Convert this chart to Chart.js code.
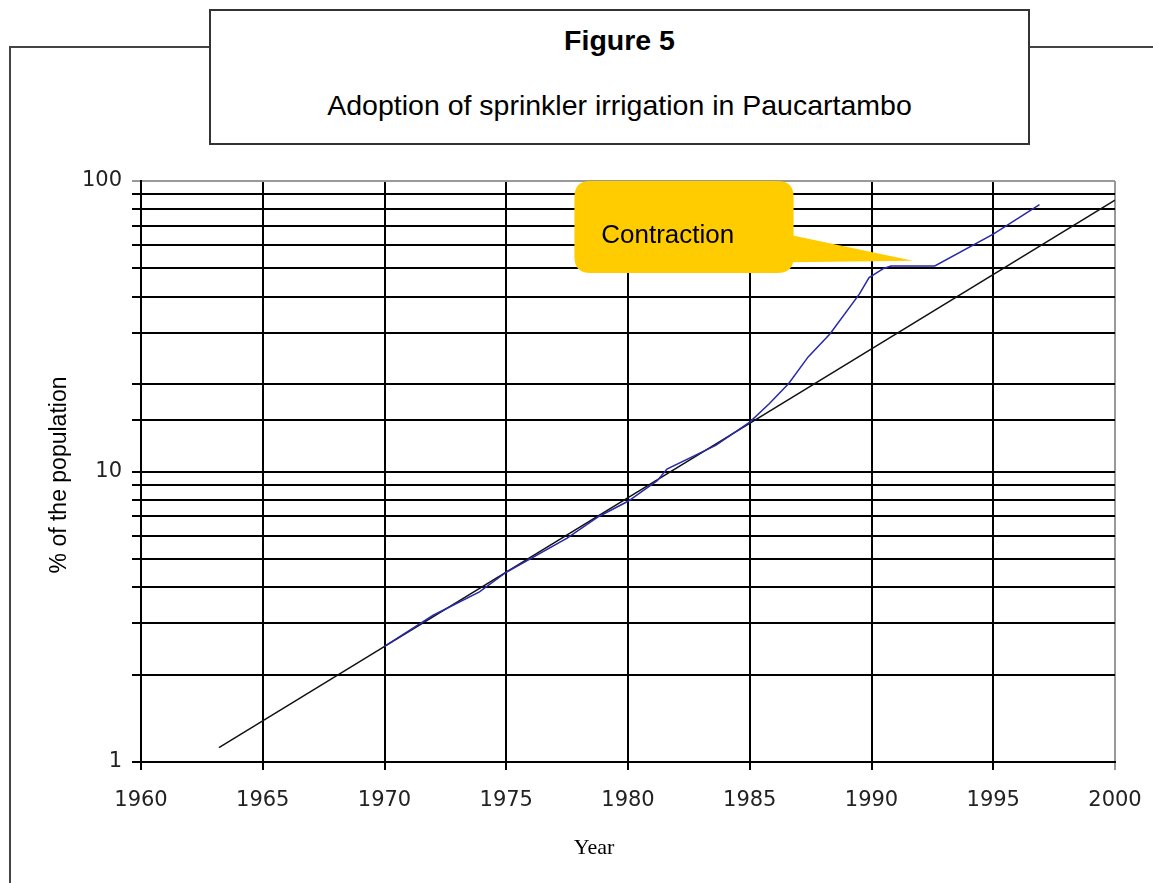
<!DOCTYPE html>
<html>
<head>
<meta charset="utf-8">
<script src="https://cdn.jsdelivr.net/npm/chart.js@4.4.1/dist/chart.umd.min.js"></script>
<style>
  body { margin: 0; background: #fff; width: 1153px; height: 883px; overflow: hidden; position: relative; }
  #frame { position: absolute; left: 9px; top: 46px; width: 1150px; height: 900px;
           border-left: 2px solid #444; border-top: 2px solid #444; }
  #myChart { position: absolute; left: 0; top: 0; }
  #titleBox { position: absolute; left: 209px; top: 9px; width: 817px; height: 132px;
              border: 2px solid #333; background: #fff; font-family: "Liberation Sans", Arial, sans-serif;
              text-align: center; color: #000; }
  #titleBox .fig { position: absolute; left: 0; right: 0; top: 13px; font-size: 28.5px; font-weight: bold; }
  #titleBox .sub { position: absolute; left: 0; right: 0; top: 78px; font-size: 28.5px; }
</style>
</head>
<body>
<div id="frame"></div>
<canvas id="myChart" width="1153" height="883"></canvas>
<div id="titleBox">
  <div class="fig">Figure 5</div>
  <div class="sub">Adoption of sprinkler irrigation in Paucartambo</div>
</div>
<script>
// adoption curve (blue)
const adoptionYears = [1970, 1972, 1973.9, 1975, 1977.5, 1978.8, 1980, 1981.2, 1981.6, 1983.6, 1985, 1985.8, 1986.6, 1987.4, 1988.3, 1989.5, 1989.9, 1990.5, 1990.8, 1992.6, 1995, 1996.9];
const adoptionPct = [2.5, 3.2, 3.85, 4.5, 5.9, 7.0, 7.9, 9.3, 10.2, 12.3, 14.8, 17.1, 20.1, 24.8, 29.8, 40.8, 46.5, 50, 51, 51, 65.6, 83];

// fitted exponential trend (black), straight on log scale
const trendYears = [1963.2, 2000];
const trendPct = [1.12, 86];

const xTicks = [1960, 1965, 1970, 1975, 1980, 1985, 1990, 1995, 2000];
const yLabels = [1, 10, 100];

const toPoints = (xs, ys) => xs.map((x, i) => ({ x: x, y: ys[i] }));

// callout "Contraction", anchored in data units
const callout = { text: "Contraction", x0: 1977.8, x1: 1986.8, yTop: 100, yBottom: 48.2,
                  tipX: 1991.7, tipY: 53.1, baseTop: 65, baseBottom: 52.5, textX: 1978.9, textY: 64.7 };

const calloutPlugin = {
  id: "callout",
  afterDatasetsDraw(chart) {
    const { ctx, scales: { x, y } } = chart;
    const l = x.getPixelForValue(callout.x0), r = x.getPixelForValue(callout.x1);
    const t = y.getPixelForValue(callout.yTop), b = y.getPixelForValue(callout.yBottom);
    const rad = 16;
    ctx.save();
    ctx.fillStyle = "#FFCC00";
    ctx.beginPath();
    ctx.moveTo(l + rad, t);
    ctx.lineTo(r - rad, t);
    ctx.quadraticCurveTo(r, t, r, t + rad);
    ctx.lineTo(r, b - rad);
    ctx.quadraticCurveTo(r, b, r - rad, b);
    ctx.lineTo(l + rad, b);
    ctx.quadraticCurveTo(l, b, l, b - rad);
    ctx.lineTo(l, t + rad);
    ctx.quadraticCurveTo(l, t, l + rad, t);
    ctx.closePath();
    ctx.fill();
    // pointer
    ctx.beginPath();
    ctx.moveTo(r - 2, y.getPixelForValue(callout.baseTop));
    ctx.lineTo(x.getPixelForValue(callout.tipX), y.getPixelForValue(callout.tipY));
    ctx.lineTo(r - 2, y.getPixelForValue(callout.baseBottom));
    ctx.closePath();
    ctx.fill();
    ctx.fillStyle = "#000";
    ctx.font = '26px "Liberation Sans", Arial, sans-serif';
    ctx.textBaseline = "middle";
    ctx.textAlign = "left";
    ctx.fillText(callout.text, x.getPixelForValue(callout.textX), y.getPixelForValue(callout.textY));
    ctx.restore();
  },
  afterDraw(chart) {
    const { ctx } = chart;
    ctx.save();
    ctx.fillStyle = "#000";
    // y axis title
    ctx.font = '23px "Liberation Sans", Arial, sans-serif';
    ctx.translate(60, 475);
    ctx.rotate(-Math.PI / 2);
    ctx.textAlign = "center";
    ctx.textBaseline = "middle";
    ctx.fillText("% of the population", 0, 0);
    ctx.restore();
    ctx.save();
    ctx.fillStyle = "#000";
    ctx.font = '22px "Liberation Serif", "Times New Roman", serif';
    ctx.textAlign = "center";
    ctx.textBaseline = "middle";
    ctx.fillText("Year", 594, 848);
    ctx.restore();
  },
};

const config = {
  type: "line",
  data: {
    datasets: [
      {
        label: "Adoption",
        data: toPoints(adoptionYears, adoptionPct),
        borderColor: "rgb(40,40,170)",
        borderWidth: 1.5,
        pointRadius: 0,
        tension: 0,
      },
      {
        label: "Trend",
        data: toPoints(trendYears, trendPct),
        borderColor: "#111",
        borderWidth: 1.5,
        pointRadius: 0,
      },
    ],
  },
  options: {
    responsive: false,
    animation: false,
    events: [],
    layout: { padding: { left: 0, right: 38, top: 181, bottom: 0 } },
    scales: {
      x: {
        type: "linear",
        min: 1960,
        max: 2000,
        afterFit: (scale) => {
          scale.height = 121;
          scale.paddingLeft = 0;
          scale.paddingRight = 0;
        },
        afterBuildTicks: (scale) => { scale.ticks = xTicks.map((v) => ({ value: v })); },
        grid: {
          color: (c) => (c.tick && c.tick.value === 2000 ? "#999" : "#000"),
          lineWidth: 2,
          tickLength: 8,
        },
        border: { color: "#000", width: 2 },
        ticks: {
          color: "#222",
          padding: 18,
          maxRotation: 0,
          font: { family: "DejaVu Sans", size: 21 },
          callback: (v) => String(v),
        },
      },
      y: {
        type: "logarithmic",
        min: 1,
        max: 100,
        afterFit: (scale) => {
          scale.width = 141;
          scale.paddingTop = 0;
          scale.paddingBottom = 0;
        },
        grid: {
          color: (c) => (c.tick && c.tick.value === 100 ? "#999" : "#000"),
          lineWidth: 2,
          tickLength: 9,
        },
        border: { color: "#000", width: 2 },
        ticks: {
          color: "#222",
          padding: 10,
          autoSkip: false,
          font: { family: "DejaVu Sans", size: 21 },
          callback: (v) => (yLabels.includes(v) ? String(v) : ""),
        },
      },
    },
    plugins: {
      legend: { display: false },
      tooltip: { enabled: false },
    },
  },
  plugins: [calloutPlugin],
};

const myChart = new Chart(document.getElementById("myChart"), config);
</script>
</body>
</html>
